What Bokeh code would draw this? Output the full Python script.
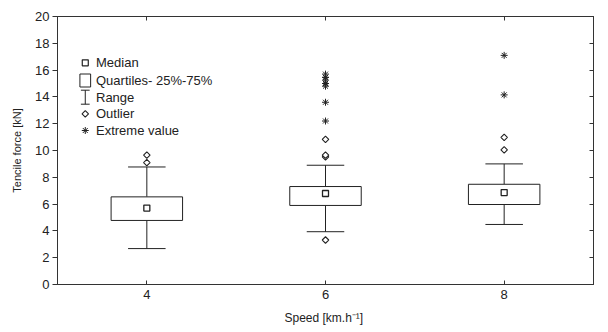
import math
from bokeh.plotting import figure
from bokeh.models import Range1d, LinearAxis, FixedTicker, ColumnDataSource, CustomLabelingPolicy
from bokeh.core.properties import value
from bokeh.embed import file_html
from bokeh.resources import INLINE

# ---------------- data ----------------
speeds = [4, 6, 8]
medians = [5.70, 6.79, 6.86]
q1 = [4.78, 5.90, 5.97]
q3 = [6.54, 7.31, 7.48]
whisk_lo = [2.68, 3.94, 4.48]
whisk_hi = [8.77, 8.90, 9.00]

outlier_x = [4, 4, 6, 6, 6, 6, 8, 8]
outlier_y = [9.10, 9.65, 3.32, 9.52, 9.65, 10.83, 10.05, 10.98]

extreme_x = [6, 6, 6, 6, 6, 6, 6, 8, 8]
extreme_y = [12.2, 13.6, 14.8, 15.0, 15.25, 15.45, 15.7, 14.15, 17.1]

x_ticks = [4, 6, 8]
y_ticks = [0, 2, 4, 6, 8, 10, 12, 14, 16, 18, 20]

legend_labels = ["Median", "Quartiles- 25%-75%", "Range", "Outlier", "Extreme value"]

# ---------------- style ----------------
FONT = value("Liberation Sans")
INK = "#222222"
AXC = "#333333"
BOX_W = 0.8
CAP_W = 0.42
DIAMOND = dict(marker="square", angle=math.pi / 4, size=4.6,
               fill_color="white", line_color=INK, line_width=1.1)

p = figure(width=608, height=328, output_backend="svg", toolbar_location=None,
           x_range=Range1d(3, 9), y_range=Range1d(0, 20),
           min_border_left=57, min_border_right=1, min_border_top=16, min_border_bottom=44)
p.background_fill_color = "white"
p.border_fill_color = "white"
p.outline_line_color = AXC
p.outline_line_width = 1
p.grid.visible = False

# axes
xa = p.xaxis[0]
xa.ticker = FixedTicker(ticks=x_ticks)
xa.axis_label = "Speed  [km.h\u207b\u00b9]"
ya = p.yaxis[0]
ya.ticker = FixedTicker(ticks=y_ticks)
ya.axis_label = "Tencile force [kN]"

for ax in (xa, ya):
    ax.axis_line_color = AXC
    ax.major_tick_line_color = AXC
    ax.minor_tick_line_color = None
    ax.major_label_text_font = "Liberation Sans"
    ax.major_label_text_font_size = "13px"
    ax.major_label_text_color = INK
    ax.axis_label_text_font = "Liberation Sans"
    ax.axis_label_text_font_style = "normal"
    ax.axis_label_text_color = INK

xa.major_tick_in = 4
xa.major_tick_out = 0
xa.major_label_standoff = 5
xa.axis_label_text_font_size = "12px"
xa.axis_label_standoff = 9

ya.major_tick_in = 0
ya.major_tick_out = 5
ya.major_label_standoff = 3
ya.axis_label_text_font_size = "11px"
ya.axis_label_standoff = 9

hide_labels = "const all = Array.from(indices); for (const i of all) indices.unset(i); return indices"
top_ax = LinearAxis(ticker=FixedTicker(ticks=x_ticks), major_tick_in=4, major_tick_out=0,
                    minor_tick_line_color=None, major_label_standoff=0,
                    major_label_policy=CustomLabelingPolicy(code=hide_labels),
                    axis_line_color=AXC, major_tick_line_color=AXC)
right_ax = LinearAxis(ticker=FixedTicker(ticks=y_ticks), major_tick_in=4, major_tick_out=0,
                      minor_tick_line_color=None, major_label_standoff=0,
                      major_label_policy=CustomLabelingPolicy(code=hide_labels),
                      axis_line_color=AXC, major_tick_line_color=AXC)
p.add_layout(top_ax, "above")
p.add_layout(right_ax, "right")

# ---------------- boxes ----------------
src = ColumnDataSource(dict(
    x=speeds, med=medians, q1=q1, q3=q3, lo=whisk_lo, hi=whisk_hi,
    cap_l=[s - CAP_W / 2 for s in speeds], cap_r=[s + CAP_W / 2 for s in speeds],
))
p.segment(x0="x", y0="q3", x1="x", y1="hi", source=src, line_color=INK, line_width=1)
p.segment(x0="x", y0="q1", x1="x", y1="lo", source=src, line_color=INK, line_width=1)
p.segment(x0="cap_l", y0="hi", x1="cap_r", y1="hi", source=src, line_color=INK, line_width=1)
p.segment(x0="cap_l", y0="lo", x1="cap_r", y1="lo", source=src, line_color=INK, line_width=1)
p.vbar(x="x", width=BOX_W, bottom="q1", top="q3", source=src,
       fill_color="white", line_color=INK, line_width=1)
p.scatter(x="x", y="med", source=src, marker="square", size=6,
          fill_color="white", line_color=INK, line_width=1.3)

p.scatter(x=outlier_x, y=outlier_y, **DIAMOND)
p.scatter(x=extreme_x, y=extreme_y, marker="asterisk", size=7,
          line_color=INK, line_width=1)

# ---------------- legend (frame pixel layout) ----------------
p.extra_x_ranges["leg"] = Range1d(0, 550)
p.extra_y_ranges["leg"] = Range1d(268, 0)
LX = 28.5          # symbol centre
TX = 39.5          # text start
ROWS = [46.3, 64.0, 80.7, 97.3, 114.0]

kw = dict(x_range_name="leg", y_range_name="leg")
p.scatter(x=[LX], y=[ROWS[0]], marker="square", size=6, fill_color="white",
          line_color=INK, line_width=1.2, **kw)
p.rect(x=[LX], y=[ROWS[1]], width=11, height=13, fill_color="white",
       line_color=INK, line_width=1, **kw)
p.segment(x0=[LX], y0=[ROWS[2] - 7], x1=[LX], y1=[ROWS[2] + 7], line_color=INK, **kw)
p.segment(x0=[LX - 4.5, LX - 4.5], y0=[ROWS[2] - 7, ROWS[2] + 7],
          x1=[LX + 4.5, LX + 4.5], y1=[ROWS[2] - 7, ROWS[2] + 7], line_color=INK, **kw)
p.scatter(x=[LX], y=[ROWS[3]], **kw, **DIAMOND)
p.scatter(x=[LX], y=[ROWS[4]], marker="asterisk", size=7, line_color=INK,
          line_width=1, **kw)
p.text(x=[TX] * len(legend_labels), y=ROWS, text=legend_labels,
       text_font=FONT, text_font_size="13px", text_color=INK,
       text_baseline="middle", text_align="left", **kw)

open("out.html", "w").write(file_html(p, INLINE))
